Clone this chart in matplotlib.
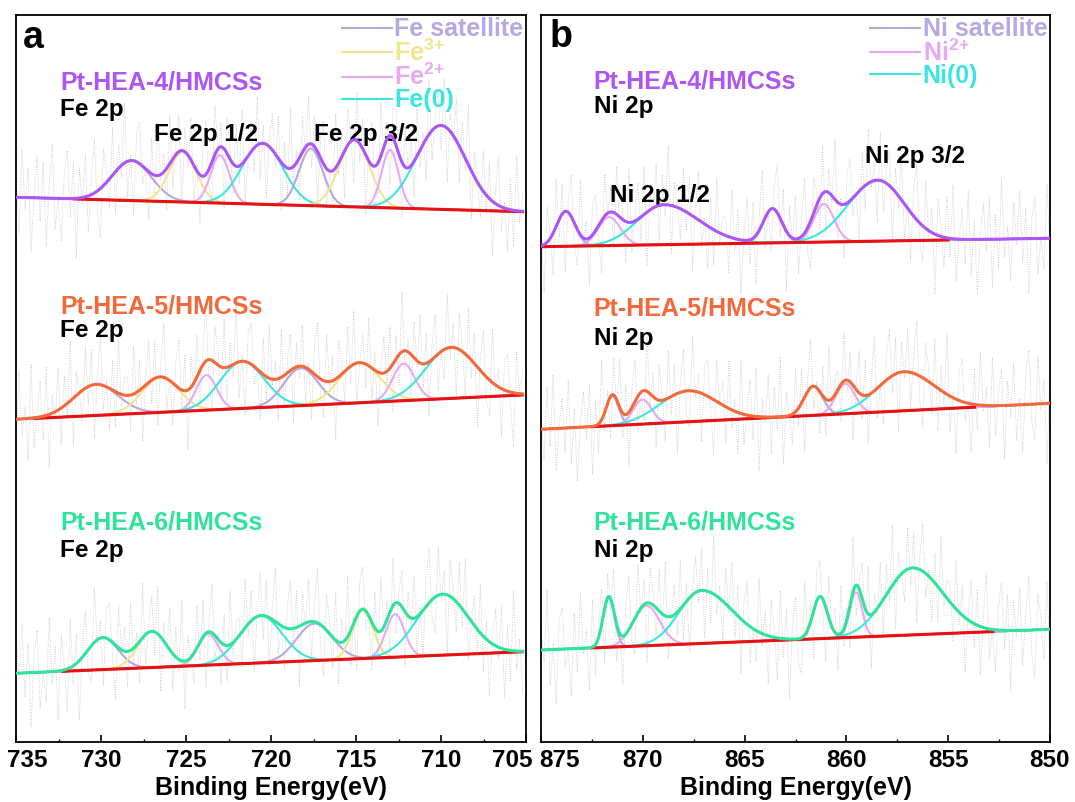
import numpy as np
import matplotlib.pyplot as plt
from matplotlib.ticker import MultipleLocator
from matplotlib.transforms import ScaledTranslation

plt.rcParams['font.family'] = ['Liberation Sans', 'DejaVu Sans']
plt.rcParams['font.weight'] = 'bold'
plt.rcParams['mathtext.fontset'] = 'custom'
plt.rcParams['mathtext.bf'] = 'Liberation Sans:bold'
plt.rcParams['mathtext.rm'] = 'Liberation Sans:bold'
plt.rcParams['mathtext.default'] = 'bf'

# ---- data (intensity in arbitrary units) ----
samples = ["Pt-HEA-4/HMCSs", "Pt-HEA-5/HMCSs", "Pt-HEA-6/HMCSs"]
sample_colors = ["#AD55F5", "#F4693C", "#2FE39B"]

fe_kind = ["sat", "3+", "2+", "0", "sat", "3+", "2+", "0"]
ni_kind = ["sat", "2+", "0", "sat", "2+", "0"]

# Fe 2p, Pt-HEA-4
fe4_center = [728.2, 725.2, 723.0, 720.5, 717.65, 715.1, 713.0, 710.0]
fe4_height = [40, 50, 48, 61, 57, 67, 58, 84]
fe4_wl = [1.15, 0.8, 0.55, 1.2, 0.7, 0.9, 0.5, 1.45]
fe4_wr = [1.15, 0.8, 0.55, 1.2, 0.7, 0.9, 0.5, 1.45]
fe4_base = [544.7, 530.2]
fe4_span = [731.6, 705.2]

# Fe 2p, Pt-HEA-5
fe5_center = [730.3, 726.5, 723.8, 721.7, 718.25, 714.8, 712.2, 709.4]
fe5_height = [31, 35, 35, 47, 37.5, 40, 37, 51]
fe5_wl = [1.3, 1.1, 0.6, 1.3, 1.0, 1.2, 0.65, 1.5]
fe5_wr = [1.3, 1.1, 0.6, 1.3, 1.0, 1.2, 0.65, 1.5]
fe5_base = [322.7, 347.2]
fe5_span = [733.9, 705.2]

# Fe 2p, Pt-HEA-6
fe6_center = [729.9, 727.0, 723.7, 720.6, 717.45, 714.6, 712.7, 709.9]
fe6_height = [32, 36, 31, 47, 37, 48, 43, 61]
fe6_wl = [0.9, 0.85, 0.6, 1.25, 1.05, 0.6, 0.55, 1.5]
fe6_wr = [0.9, 0.85, 0.6, 1.25, 1.05, 0.6, 0.55, 1.5]
fe6_base = [68.7, 90.4]
fe6_span = [732.25, 705.2]

# Ni 2p, Pt-HEA-4
ni4_center = [873.78, 871.65, 868.97, 863.63, 861.11, 858.47]
ni4_height = [35, 28.5, 40, 34, 38, 61]
ni4_wl = [0.45, 0.55, 1.3, 0.45, 0.5, 1.45]
ni4_wr = [0.45, 0.55, 1.7, 0.45, 0.5, 1.31]
ni4_base = [495.3, 503.7]
ni4_span = [875.0, 855.0]

# Ni 2p, Pt-HEA-5
ni5_center = [871.49, 870.02, 867.77, 861.63, 860.05, 857.19]
ni5_height = [30, 24.5, 31, 29, 30, 39]
ni5_wl = [0.3, 0.45, 1.4, 0.45, 0.47, 1.3]
ni5_wr = [0.3, 0.45, 1.4, 0.45, 0.47, 1.5]
ni5_base = [312.7, 338.7]
ni5_span = [872.5, 853.7]

# Ni 2p, Pt-HEA-6
ni6_center = [871.67, 869.82, 867.12, 861.29, 859.53, 856.76]
ni6_height = [50, 40, 53, 42, 45, 67]
ni6_wl = [0.28, 0.65, 1.1, 0.35, 0.3, 1.3]
ni6_wr = [0.28, 0.65, 1.5, 0.35, 0.3, 1.5]
ni6_base = [92.0, 112.7]
ni6_span = [872.5, 852.8]

# residual scatter of the raw counts (estimated, arbitrary units)
noise = [3, -6, 8, -2, 5, -9, 1, 7, -4, 6, -8, 2, 9, -5, 0, -7, 4, 8, -3, 6,
         -10, 5, -1, 7, -6, 3, 9, -4, -8, 6, 2, -5, 8, -7, 4, -2, 10, -6, 1, -9,
         5, 7, -3, 0, -8, 6, -4, 9, -1, 3, -7, 8, -5, 2, 6, -9, 4, -2, 7, -6,
         1, -8, 5, 9, -3, -6, 8, -1, 4, -10, 6, 2, -5, 7, -3, 9, -7, 0, 5, -4,
         8, -6, 3, -9, 1, 6, -2, 7, -8, 4, -5, 10, -3, 2, -7, 6, -1, 8, -4, 5,
         -9, 3, 7, -6, 0, -5, 9, -2, 4, -8, 6, 1, -7, 8, -3, 5, -10, 2, 7, -4,
         -6, 9, -1, 3, -8, 5, 6, -2, -9, 7, 0, 4, -6, 8, -3, 2, -7, 9, -5, 1,
         6, -4, 8, -9, 3, -1, 7, -6, 5, -2, 10, -8, 4, 0, -5, 7, -3, 6, -9, 2,
         8, -4, 1, -7, 5, -6, 9, -2, 3]

fe_spectra = [
    (fe4_center, fe4_height, fe4_wl, fe4_wr, fe4_base, fe4_span),
    (fe5_center, fe5_height, fe5_wl, fe5_wr, fe5_base, fe5_span),
    (fe6_center, fe6_height, fe6_wl, fe6_wr, fe6_base, fe6_span),
]
ni_spectra = [
    (ni4_center, ni4_height, ni4_wl, ni4_wr, ni4_base, ni4_span),
    (ni5_center, ni5_height, ni5_wl, ni5_wr, ni5_base, ni5_span),
    (ni6_center, ni6_height, ni6_wl, ni6_wr, ni6_base, ni6_span),
]

comp_colors = {"sat": "#B6A8E2", "3+": "#F0E68E", "2+": "#E8A9F2", "0": "#3AE6E2"}
fe_labels = {"sat": "Fe satellite", "3+": r"Fe$^{3\!+}$", "2+": r"Fe$^{2\!+}$", "0": "Fe(0)"}
ni_labels = {"sat": "Ni satellite", "2+": r"Ni$^{2\!+}$", "0": "Ni(0)"}


def peak(E, c, h, wl, wr):
    w = np.where(E > c, wl, wr)
    return h * np.exp(-(E - c) ** 2 / (2 * w ** 2))


def baseline(E, base, xlim):
    return base[0] + (base[1] - base[0]) * (E - xlim[0]) / (xlim[1] - xlim[0])


def draw_panel(ax, spectra, kinds, labels, xlim, base_ref, shift0):
    E = np.linspace(xlim[0], xlim[1], 1500)
    E_raw = np.linspace(xlim[0], xlim[1], len(noise))
    seen = []
    for i, (cen, hgt, wl, wr, base, span) in enumerate(spectra):
        bl = baseline(E, base, base_ref)
        total = np.zeros_like(E)
        raw = baseline(E_raw, base, base_ref) + 6.0 * np.roll(np.array(noise), shift0 + 37 * i)
        for k in range(len(cen)):
            raw += peak(E_raw, cen[k], hgt[k], wl[k], wr[k])
            p = peak(E, cen[k], hgt[k], wl[k], wr[k])
            total += p
            lab = None
            if kinds[k] not in seen:
                seen.append(kinds[k])
                lab = labels[kinds[k]]
            ax.plot(E, bl + p, color=comp_colors[kinds[k]], lw=1.5, zorder=2, label=lab)
        ax.plot(E_raw, raw, color="#c4c4c4", lw=0.6, ls=(0, (1, 1.8)), zorder=1)
        m = (E <= span[0]) & (E >= span[1])
        ax.plot(E[m], bl[m], color="#E81010", lw=2.2, zorder=3)
        ax.plot(E, bl + total, color=sample_colors[i], lw=2.2, zorder=4)

    ax.set_xlim(xlim)
    ax.set_ylim(0, 727)
    ax.set_yticks([])
    ax.xaxis.set_minor_locator(MultipleLocator(2.5))
    ax.tick_params(axis="x", which="major", direction="in", length=5, width=1.2,
                   labelsize=17.5, pad=5)
    ax.tick_params(axis="x", which="minor", direction="in", length=2.5, width=1.0)
    for s in ax.spines.values():
        s.set_linewidth(1.3)
    ax.set_xlabel("Binding Energy(eV)", fontsize=18, fontweight="bold", labelpad=3)
    handles, labs = ax.get_legend_handles_labels()
    order = [labs.index(labels[k]) for k in labels]
    ax.legend([handles[j] for j in order], [labs[j] for j in order],
              loc="upper right", frameon=False, handlelength=2.0,
              handletextpad=0.1, labelspacing=-0.08, borderaxespad=0.0,
              borderpad=0.1, labelcolor="linecolor",
              prop={"size": 18, "weight": "bold"})


fig = plt.figure(figsize=(10.75, 8.02), dpi=100)
axA = fig.add_axes([16 / 1075, 1 - 742 / 802, 510 / 1075, 727 / 802])
axB = fig.add_axes([541 / 1075, 1 - 742 / 802, 509 / 1075, 727 / 802])

draw_panel(axA, fe_spectra, fe_kind, fe_labels, (735, 705.2), (735, 705), 0)
draw_panel(axB, ni_spectra, ni_kind, ni_labels, (875, 850), (875, 850), 61)

axA.set_xticks([735, 730, 725, 720, 715, 710, 705])
axB.set_xticks([875, 870, 865, 860, 855, 850])

# edge labels sit slightly inside, as in the original
for ax, shifts in ((axA, {"735": 11, "705": -14}), (axB, {"875": 18})):
    for lab in ax.get_xticklabels():
        if lab.get_text() in shifts:
            lab.set_transform(lab.get_transform() +
                              ScaledTranslation(shifts[lab.get_text()] / 100, 0, fig.dpi_scale_trans))

# panel letters and annotations
axA.text(734.6, 694, "a", fontsize=27, fontweight="bold", va="baseline")
axB.text(874.6, 695, "b", fontsize=27, fontweight="bold", va="baseline")

fe_label_y = [(653, 626), (428.7, 404.7), (212, 185.3)]
ni_label_y = [(653.7, 628.7), (427, 397), (212, 185.3)]
for i in range(3):
    axA.text(732.4, fe_label_y[i][0], samples[i], color=sample_colors[i],
             fontsize=18, fontweight="bold", va="baseline")
    axA.text(732.4, fe_label_y[i][1], "Fe 2p", fontsize=17.5, fontweight="bold", va="baseline")
    axB.text(872.45, ni_label_y[i][0], samples[i], color=sample_colors[i],
             fontsize=18, fontweight="bold", va="baseline")
    axB.text(872.4, ni_label_y[i][1], "Ni 2p", fontsize=17.5, fontweight="bold", va="baseline")

axA.text(726.9, 601, "Fe 2p 1/2", fontsize=17.5, fontweight="bold", va="baseline")
axA.text(717.5, 601, "Fe 2p 3/2", fontsize=17.5, fontweight="bold", va="baseline")
axB.text(871.6, 540.3, "Ni 2p 1/2", fontsize=17.5, fontweight="bold", va="baseline")
axB.text(859.1, 578.7, "Ni 2p 3/2", fontsize=17.5, fontweight="bold", va="baseline")

fig.savefig("out.png", dpi=100)
